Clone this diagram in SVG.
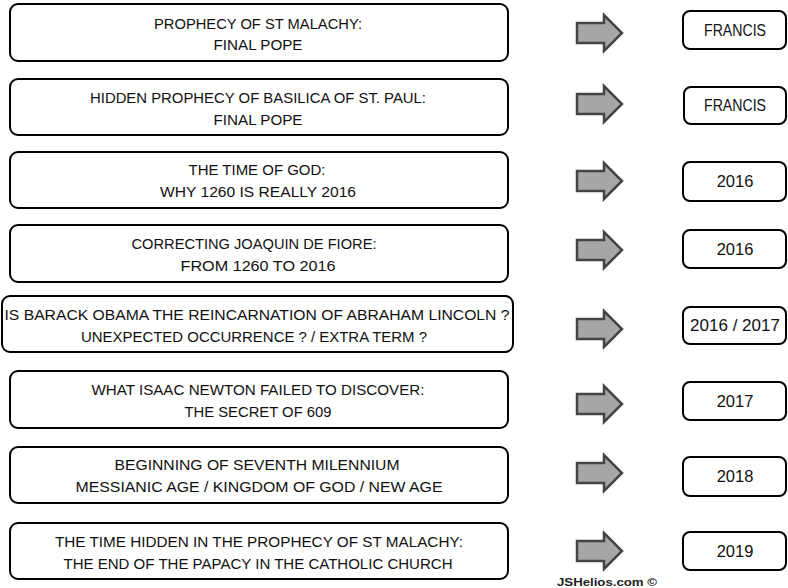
<svg xmlns="http://www.w3.org/2000/svg" width="788" height="588" viewBox="0 0 788 588">
<style>
.box{fill:#fff;stroke:#000;stroke-width:2}
.t{font-family:"Liberation Sans",Arial,sans-serif;font-size:15.5px;fill:#111;text-anchor:middle}
.r{font-family:"Liberation Sans",Arial,sans-serif;font-size:16.5px;fill:#111;text-anchor:middle}
.arr{fill:#a6a6a6;stroke:#444;stroke-width:2.5;stroke-linejoin:miter}
.sig{font-family:"Liberation Sans",Arial,sans-serif;font-size:11.5px;font-weight:bold;fill:#222;text-anchor:middle}
</style>
<defs>
<path id="ar" class="arr" d="M577,-10 L604,-10 L604,-18 L622,0 L604,18 L604,10 L577,10 Z"/>
</defs>
<g id="topic1"><rect class="box" x="10" y="4" width="498" height="57" rx="8"/><text class="t" x="258" y="29" textLength="208" lengthAdjust="spacingAndGlyphs">PROPHECY OF ST MALACHY:</text><text class="t" x="258" y="50" textLength="89" lengthAdjust="spacingAndGlyphs">FINAL POPE</text></g>
<g id="topic2"><rect class="box" x="10" y="79" width="498" height="56" rx="8"/><text class="t" x="258" y="103" textLength="336" lengthAdjust="spacingAndGlyphs">HIDDEN PROPHECY OF BASILICA OF ST. PAUL:</text><text class="t" x="258" y="125" textLength="89" lengthAdjust="spacingAndGlyphs">FINAL POPE</text></g>
<g id="topic3"><rect class="box" x="10" y="152" width="498" height="56" rx="8"/><text class="t" x="257" y="175" textLength="137" lengthAdjust="spacingAndGlyphs">THE TIME OF GOD:</text><text class="t" x="258" y="197" textLength="196" lengthAdjust="spacingAndGlyphs">WHY 1260 IS REALLY 2016</text></g>
<g id="topic4"><rect class="box" x="10" y="225" width="498" height="57" rx="8"/><text class="t" x="254" y="249" textLength="245" lengthAdjust="spacingAndGlyphs">CORRECTING JOAQUIN DE FIORE:</text><text class="t" x="258" y="271" textLength="155" lengthAdjust="spacingAndGlyphs">FROM 1260 TO 2016</text></g>
<g id="topic5"><rect class="box" x="2" y="296" width="511" height="56" rx="8"/><text class="t" x="257" y="320" textLength="505" lengthAdjust="spacingAndGlyphs">IS BARACK OBAMA THE REINCARNATION  OF ABRAHAM  LINCOLN ?</text><text class="t" x="254" y="342" textLength="346" lengthAdjust="spacingAndGlyphs">UNEXPECTED  OCCURRENCE  ? / EXTRA TERM ?</text></g>
<g id="topic6"><rect class="box" x="10" y="371" width="498" height="57" rx="8"/><text class="t" x="258" y="395" textLength="333" lengthAdjust="spacingAndGlyphs">WHAT ISAAC NEWTON FAILED TO DISCOVER:</text><text class="t" x="258" y="417" textLength="147" lengthAdjust="spacingAndGlyphs">THE SECRET OF 609</text></g>
<g id="topic7"><rect class="box" x="10" y="447" width="498" height="56" rx="8"/><text class="t" x="257" y="470" textLength="285" lengthAdjust="spacingAndGlyphs">BEGINNING OF SEVENTH MILENNIUM</text><text class="t" x="259" y="492" textLength="367" lengthAdjust="spacingAndGlyphs">MESSIANIC AGE / KINGDOM OF GOD / NEW AGE</text></g>
<g id="topic8"><rect class="box" x="10" y="523" width="498" height="56" rx="8"/><text class="t" x="259" y="547" textLength="408" lengthAdjust="spacingAndGlyphs">THE TIME HIDDEN IN THE PROPHECY OF ST MALACHY:</text><text class="t" x="258" y="569" textLength="389" lengthAdjust="spacingAndGlyphs">THE END OF THE PAPACY IN THE CATHOLIC CHURCH</text></g>
<g id="result1"><rect class="box" x="683" y="11" width="103" height="38" rx="7"/><text class="r" x="735" y="36" textLength="62" lengthAdjust="spacingAndGlyphs">FRANCIS</text></g>
<g id="result2"><rect class="box" x="684" y="87" width="102" height="37" rx="7"/><text class="r" x="735" y="111" textLength="62" lengthAdjust="spacingAndGlyphs">FRANCIS</text></g>
<g id="result3"><rect class="box" x="683" y="162" width="103" height="39" rx="7"/><text class="r" x="735" y="187">2016</text></g>
<g id="result4"><rect class="box" x="683" y="230" width="103" height="38" rx="7"/><text class="r" x="735" y="255">2016</text></g>
<g id="result5"><rect class="box" x="683" y="307" width="103" height="37" rx="7"/><text class="r" x="735" y="331" textLength="90" lengthAdjust="spacingAndGlyphs">2016 / 2017</text></g>
<g id="result6"><rect class="box" x="683" y="382" width="103" height="38" rx="7"/><text class="r" x="735" y="407">2017</text></g>
<g id="result7"><rect class="box" x="683" y="457" width="103" height="39" rx="7"/><text class="r" x="735" y="482">2018</text></g>
<g id="result8"><rect class="box" x="683" y="532" width="103" height="38" rx="7"/><text class="r" x="735" y="557">2019</text></g>
<g id="connectors">
<use href="#ar" y="33"/>
<use href="#ar" y="104"/>
<use href="#ar" y="181"/>
<use href="#ar" y="250"/>
<use href="#ar" y="329"/>
<use href="#ar" y="404"/>
<use href="#ar" y="473"/>
<use href="#ar" y="551"/>
</g>
<text class="sig" x="607" y="586" textLength="100" lengthAdjust="spacingAndGlyphs">JSHelios.com ©</text>
</svg>
